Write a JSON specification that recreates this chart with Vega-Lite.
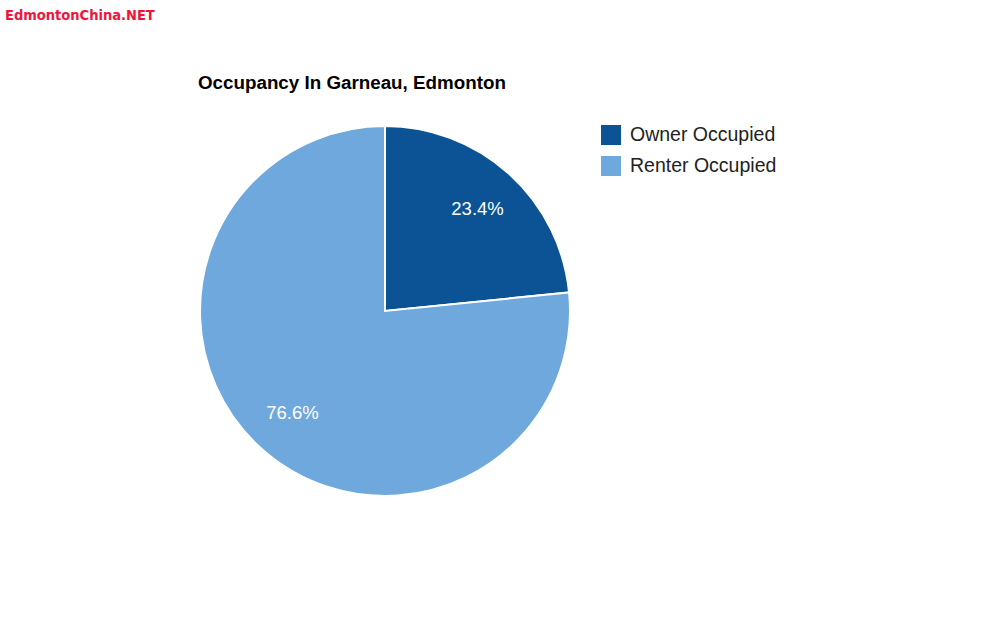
{
  "$schema": "https://vega.github.io/schema/vega-lite/v6.json",
  "background": "white",
  "padding": {"left": 5, "top": 8, "right": 0, "bottom": 0},
  "title": {
    "text": "EdmontonChina.NET",
    "anchor": "start",
    "frame": "bounds",
    "font": "DejaVu Sans Condensed",
    "fontWeight": "bold",
    "fontSize": 14.5,
    "color": "#f0143c",
    "offset": 50.5
  },
  "config": {"view": {"stroke": null}},
  "data": {
    "values": [
      {"occupancy": "Owner Occupied", "share": 23.4, "label": "23.4%"},
      {"occupancy": "Renter Occupied", "share": 76.6, "label": "76.6%"}
    ]
  },
  "vconcat": [
    {
      "width": 760,
      "height": 370,
      "title": {
        "text": "Occupancy In Garneau, Edmonton",
        "anchor": "start",
        "dx": 193,
        "offset": 29,
        "font": "Liberation Sans",
        "fontWeight": "bold",
        "fontSize": 18.8,
        "color": "#000000"
      },
      "encoding": {
        "theta": {"field": "share", "type": "quantitative", "stack": true},
        "color": {
          "field": "occupancy",
          "type": "nominal",
          "scale": {"domain": ["Owner Occupied", "Renter Occupied"], "range": ["#0b5394", "#6fa8dc"]},
          "legend": {
            "title": null,
            "orient": "none",
            "legendX": 596,
            "legendY": -1,
            "symbolType": "square",
            "symbolSize": 400,
            "symbolStrokeWidth": 0,
            "labelFont": "Liberation Sans",
            "labelFontSize": 19.5,
            "labelColor": "#222222",
            "labelOffset": 9,
            "rowPadding": 11,
            "padding": 0
          }
        }
      },
      "layer": [
        {"mark": {"type": "arc", "outerRadius": 185, "stroke": "white", "strokeWidth": 2}},
        {
          "mark": {"type": "text", "radius": 138, "font": "Liberation Sans", "fontSize": 18.5, "fill": "white"},
          "encoding": {"text": {"field": "label", "type": "nominal"}, "color": {"value": "white"}}
        }
      ]
    }
  ]
}
